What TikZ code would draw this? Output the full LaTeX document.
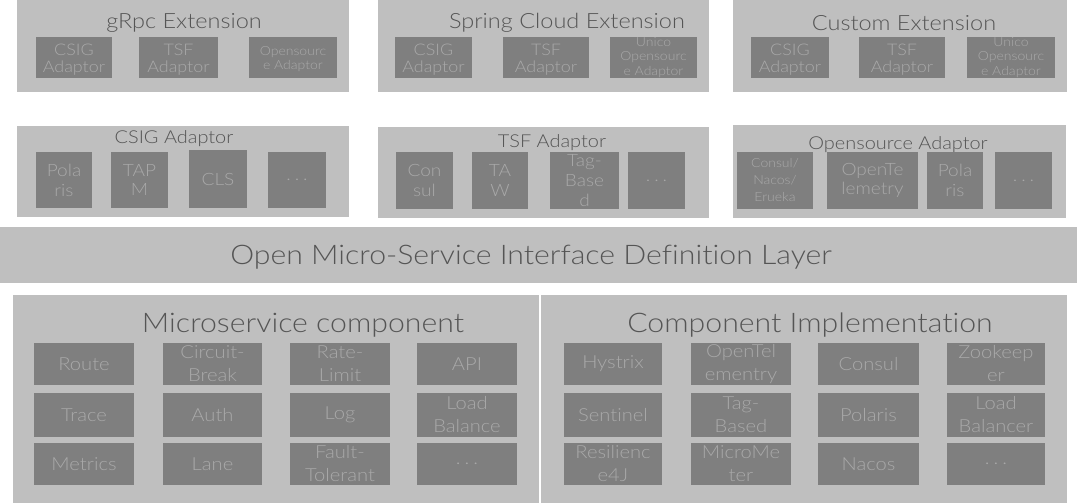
\documentclass[tikz,border=0pt]{standalone}
\usepackage{fontspec}
\setmainfont{Lato Light}[FakeStretch=1.12, Ligatures=NoCommon]
\definecolor{outerc}{HTML}{BFBFBF}
\definecolor{innerc}{HTML}{7F7F7F}
\definecolor{itext}{HTML}{A9A9A9}
\definecolor{ttext}{HTML}{555555}
\newcommand{\bx}[7]{\node[#1, minimum width={(#5-#3)*1pt}, minimum height={(#6-#4)*1pt}] (#2) at ({(#3+#5)/2},{(#4+#6)/2}) {#7};}
% box with its text shifted down by #8 (pt)
\newcommand{\bxs}[8]{\node[#1, minimum width={(#5-#3)*1pt}, minimum height={(#6-#4)*1pt}] (#2) at ({(#3+#5)/2},{(#4+#6)/2}) {};
  \node[#1, fill=none, minimum size=0pt] (#2t) at ([yshift=-#8pt]#2.center) {#7};}
\newcommand{\mydots}{.\hspace{4pt}.\hspace{4pt}.}
\begin{document}
\begin{tikzpicture}[x=1pt,y=-1pt,
  outer/.style={fill=outerc, draw=none, inner sep=0pt},
  inner/.style={fill=innerc, draw=none, inner sep=0pt, text=itext, align=center},
  innerT/.style={inner, font=\fontsize{16}{16.8}\selectfont},
  innerM/.style={inner, font=\fontsize{17}{19.8}\selectfont},
  innerB/.style={inner, font=\fontsize{18}{23}\selectfont},
  small/.style={font=\fontsize{12.5}{14.5}\selectfont},
  smallM/.style={font=\fontsize{12.5}{17}\selectfont},
  title/.style={text=ttext, inner sep=0pt},
  t1/.style={font=\fontsize{21}{22}\selectfont},
  t2/.style={font=\fontsize{17.8}{20}\selectfont},
  t3/.style={font=\fontsize{27}{28}\selectfont},
  t4/.style={font=\fontsize{27}{28}\selectfont}]
\useasboundingbox (0,0) rectangle (1080,503);
% top row
\bx{outer}{grpc}{17}{0}{349}{92}{}
\bx{outer}{spring}{378}{0}{709}{92}{}
\bx{outer}{custom}{733}{0}{1067}{92}{}
\node[title,t1] (grpcT) at (184,23) {gRpc Extension};
\node[title,t1] (springT) at (567,23) {Spring Cloud Extension};
\node[title,t1] (customT) at (904,23) {Custom Extension};
\bxs{innerT}{grpcA}{36}{37}{112}{78}{CSIG\\Adaptor}{2.5}
\bxs{innerT}{grpcB}{139}{37}{218}{78}{TSF\\Adaptor}{2.5}
\bxs{innerT,small}{grpcC}{249}{37}{337}{78}{Opensourc\\e Adaptor}{1.5}
\bxs{innerT}{springA}{395}{37}{472}{78}{CSIG\\Adaptor}{2.5}
\bxs{innerT}{springB}{503}{37}{589}{78}{TSF\\Adaptor}{2.5}
\bx{innerT,small}{springC}{610}{37}{697}{78}{Unico\\Opensourc\\e Adaptor}
\bxs{innerT}{customA}{751}{37}{829}{78}{CSIG\\Adaptor}{2.5}
\bxs{innerT}{customB}{859}{37}{945}{78}{TSF\\Adaptor}{2.5}
\bx{innerT,small}{customC}{967}{37}{1055}{78}{Unico\\Opensourc\\e Adaptor}
% middle row
\bx{outer}{csig}{17}{126}{349}{217}{}
\bx{outer}{tsf}{378}{127}{709}{218}{}
\bx{outer}{open}{733}{125}{1066}{218}{}
\node[title,t2] (csigT) at (174,139) {CSIG Adaptor};
\node[title,t2] (tsfT) at (552,143) {TSF Adaptor};
\node[title,t2] (openT) at (898,145) {Opensource Adaptor};
\bx{innerM}{csigA}{36}{152}{92}{208}{Pola\\ris}
\bx{innerM}{csigB}{111}{152}{168}{208}{TAP\\M}
\bx{innerM}{csigC}{189}{150}{247}{208}{CLS}
\bx{innerM}{csigD}{268}{152}{326}{208}{\mydots}
\bx{innerM}{tsfA}{396}{152}{453}{209}{Con\\sul}
\bx{innerM}{tsfB}{472}{152}{528}{209}{TA\\W}
\bx{innerM}{tsfC}{550}{152}{619}{209}{Tag-\\Base\\d}
\bx{innerM}{tsfD}{628}{152}{685}{209}{\mydots}
\bx{innerM,smallM}{openA}{737}{152}{813}{209}{Consul/\\Nacos/\\Erueka}
\bx{innerM}{openB}{827}{152}{918}{209}{OpenTe\\lemetry}
\bx{innerM}{openC}{927}{152}{983}{209}{Pola\\ris}
\bx{innerM}{openD}{995}{152}{1052}{209}{\mydots}
% interface layer
\bx{outer}{layer}{0}{227}{1077}{283}{}
\node[title,t3] (layerT) at (531,257) {Open Micro-Service Interface Definition Layer};
% bottom
\bx{outer}{micro}{13}{295}{539}{503}{}
\bx{outer}{impl}{541}{295}{1067}{503}{}
\node[title,t4] (microT) at (303,325) {Microservice component};
\node[title,t4] (implT) at (810,325) {Component Implementation};
\bx{innerB}{mA1}{34}{343}{134}{385}{Route}
\bx{innerB}{mA2}{163}{343}{262}{385}{Circuit-\\Break}
\bx{innerB}{mA3}{290}{343}{390}{385}{Rate-\\Limit}
\bx{innerB}{mA4}{417}{343}{517}{385}{API}
\bx{innerB}{mB1}{34}{393}{134}{437}{Trace}
\bx{innerB}{mB2}{163}{393}{262}{437}{Auth}
\bx{innerB}{mB3}{290}{393}{390}{437}{Log}
\bx{innerB}{mB4}{417}{393}{517}{437}{Load\\Balance}
\bx{innerB}{mC1}{34}{443}{134}{485}{Metrics}
\bx{innerB}{mC2}{163}{443}{262}{485}{Lane}
\bx{innerB}{mC3}{290}{443}{390}{485}{Fault-\\Tolerant}
\bx{innerB}{mC4}{417}{443}{517}{485}{\mydots}
\bx{innerB}{iA1}{564}{343}{662}{385}{Hystrix}
\bx{innerB}{iA2}{691}{343}{791}{385}{OpenTel\\ementry}
\bx{innerB}{iA3}{818}{343}{919}{385}{Consul}
\bx{innerB}{iA4}{947}{343}{1045}{385}{Zookeep\\er}
\bx{innerB}{iB1}{564}{393}{662}{437}{Sentinel}
\bx{innerB}{iB2}{691}{393}{791}{437}{Tag-\\Based}
\bx{innerB}{iB3}{818}{393}{919}{437}{Polaris}
\bx{innerB}{iB4}{947}{393}{1045}{437}{Load\\Balancer}
\bx{innerB}{iC1}{564}{443}{662}{485}{Resilienc\\e4J}
\bx{innerB}{iC2}{691}{443}{791}{485}{MicroMe\\ter}
\bx{innerB}{iC3}{818}{443}{919}{485}{Nacos}
\bx{innerB}{iC4}{947}{443}{1045}{485}{\mydots}
\end{tikzpicture}
\end{document}
